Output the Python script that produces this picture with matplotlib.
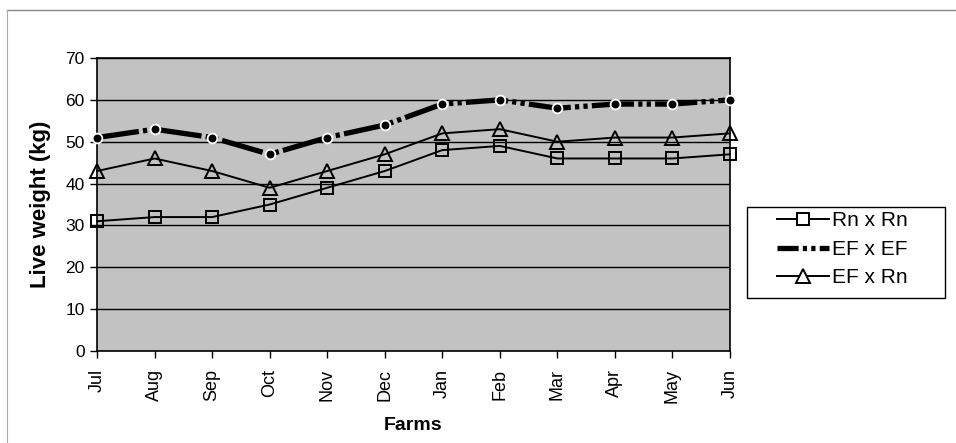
import matplotlib
matplotlib.use("Agg")
import matplotlib.pyplot as plt
from matplotlib.lines import Line2D
from matplotlib.patches import Rectangle

plt.rcParams['font.family'] = ['Liberation Sans', 'DejaVu Sans']

months = ["Jul", "Aug", "Sep", "Oct", "Nov", "Dec", "Jan", "Feb", "Mar", "Apr", "May", "Jun"]
rn_x_rn = [31, 32, 32, 35, 39, 43, 48, 49, 46, 46, 46, 47]
ef_x_ef = [51, 53, 51, 47, 51, 54, 59, 60, 58, 59, 59, 60]
ef_x_rn = [43, 46, 43, 39, 43, 47, 52, 53, 50, 51, 51, 52]

EF_DASH = (8, 0.8, 0.8, 0.8, 0.8, 0.8)

W, H = 956, 443
fig = plt.figure(figsize=(W / 100, H / 100), dpi=100)
ax = fig.add_axes([0.1015, 0.2077, 0.6621, 0.6613])
ax.set_facecolor("#c2c2c2")

x = list(range(len(months)))

ax.set_ylim(0, 70)
ax.set_xlim(0, len(months) - 1)
ax.set_yticks(range(0, 71, 10))
ax.yaxis.grid(True, color="black", linewidth=1.0)
ax.set_axisbelow(True)

ax.plot(x, rn_x_rn, color="black", linewidth=1.4, marker="s", markersize=9,
        markerfacecolor="none", markeredgecolor="black", markeredgewidth=1.4,
        label="Rn x Rn", clip_on=False, zorder=3)
ax.plot(x, ef_x_ef, color="black", linewidth=3.8, dashes=EF_DASH,
        label="EF x EF", clip_on=False, zorder=4)
ax.plot(x, ef_x_ef, linestyle="none", marker="o", markersize=7,
        markerfacecolor="black", markeredgecolor="white", markeredgewidth=1.3,
        clip_on=False, zorder=5)
ax.plot(x, ef_x_rn, color="black", linewidth=1.4, marker="^", markersize=10,
        markerfacecolor="none", markeredgecolor="black", markeredgewidth=1.4,
        label="EF x Rn", clip_on=False, zorder=3)

ax.set_xticks(x)
ax.set_xticklabels(months, rotation=90, fontsize=13)
ax.tick_params(axis="y", labelsize=12.5, length=5, width=1, direction="out", pad=4)
ax.tick_params(axis="x", length=5, width=1, direction="out", pad=8)
for s in ax.spines.values():
    s.set_linewidth(1.2)
    s.set_color("black")

ax.set_ylabel("Live weight (kg)", fontsize=16, fontweight="bold", labelpad=10)
ax.set_xlabel("Farms", fontsize=14, fontweight="bold", labelpad=10)

handles = [
    Line2D([], [], color="black", linewidth=1.4, marker="s", markersize=9,
           markerfacecolor="white", markeredgewidth=1.4),
    Line2D([], [], color="black", linewidth=3.8, dashes=(4, 0.8, 0.8, 0.8, 0.8, 0.8)),
    Line2D([], [], color="black", linewidth=1.4, marker="^", markersize=10,
           markerfacecolor="white", markeredgewidth=1.4),
]
# legend frame drawn separately so the entries can sit inset from its left edge
fig.add_artist(Rectangle((747 / W, 1 - 298 / H), 198 / W, 91 / H,
                         transform=fig.transFigure, facecolor="white",
                         edgecolor="black", linewidth=1.0, zorder=1))
leg = fig.legend(handles, ["Rn x Rn", "EF x EF", "EF x Rn"],
                 loc="upper left", bbox_to_anchor=(770 / W, 1 - 204 / H),
                 frameon=False, fontsize=15,
                 handlelength=2.5, handletextpad=0.15, labelspacing=0.46,
                 borderpad=0.35, borderaxespad=0)
leg.set_zorder(2)

# thin frame lines along the top and left of the figure
fig.add_artist(Line2D([7 / W, 1.0], [1 - 10 / H, 1 - 10 / H],
                      transform=fig.transFigure, color="#888888", linewidth=1.0))
fig.add_artist(Line2D([7 / W, 7 / W], [0.0, 1 - 10 / H],
                      transform=fig.transFigure, color="#aaaaaa", linewidth=0.8))

fig.savefig("out.png", dpi=100)
